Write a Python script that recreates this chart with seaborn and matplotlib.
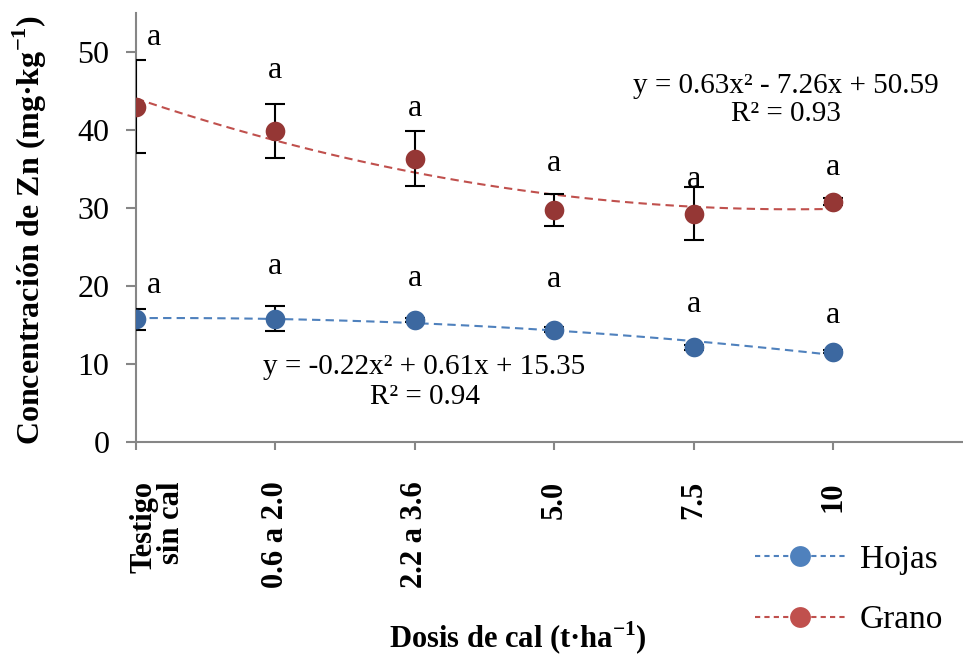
import numpy as np
import pandas as pd
import matplotlib
matplotlib.use("Agg")
import matplotlib.pyplot as plt
import matplotlib.transforms as mtransforms
from matplotlib.lines import Line2D
import seaborn as sns

# datos
dosis = ["Testigo\nsin cal", "0.6 a 2.0", "2.2 a 3.6", "5.0", "7.5", "10"]
pos = [1, 2, 3, 4, 5, 6]
hojas = [15.75, 15.85, 15.65, 14.45, 12.15, 11.6]
hojas_err = [1.3, 1.6, 0.3, 0.3, 0.3, 0.2]
grano = [43.0, 39.85, 36.35, 29.75, 29.3, 30.85]
grano_err = [6.0, 3.45, 3.5, 2.0, 3.4, 0.4]
letras_hojas = ["a", "a", "a", "a", "a", "a"]
letras_grano = ["a", "a", "a", "a", "a", "a"]
eq_hojas = "y = -0.22x² + 0.61x + 15.35\nR² = 0.94"
eq_grano = "y = 0.63x² - 7.26x + 50.59\nR² = 0.93"

# posiciones de las letras (y)
y_let_hojas = [20.1, 22.5, 21.0, 20.9, 17.6, 16.3]
y_let_grano = [51.9, 47.6, 42.8, 35.7, 33.7, 35.2]

df = pd.DataFrame({"x": pos, "Hojas": hojas, "Grano": grano})

sns.set_style("white")
plt.rcParams['font.family'] = ['Liberation Serif', 'DejaVu Serif']
plt.rcParams['mathtext.fontset'] = 'custom'
plt.rcParams['mathtext.rm'] = 'Liberation Serif'
plt.rcParams['mathtext.bf'] = 'Liberation Serif:bold'
plt.rcParams['text.color'] = 'black'
plt.rcParams['xtick.labelcolor'] = 'black'
plt.rcParams['ytick.labelcolor'] = 'black'

azul_l, azul_m = "#4F81BD", "#3C68A0"
rojo_l, rojo_m = "#C0504D", "#953735"
gris = "#868686"

fig = plt.figure(figsize=(9.63, 6.57), dpi=100)
ax = fig.add_axes([136/963, 1 - 442.3/657, 1 - 136/963, (442.3 - 13)/657])

# lineas de tendencia (polinomio grado 2)
sns.regplot(data=df, x="x", y="Hojas", order=2, ci=None, scatter=False, ax=ax,
            line_kws=dict(color=azul_l, lw=1.5, dashes=(4, 2.5)))
sns.regplot(data=df, x="x", y="Grano", order=2, ci=None, scatter=False, ax=ax,
            line_kws=dict(color=rojo_l, lw=1.5, dashes=(4, 2.5)))

ax.errorbar(pos, hojas, yerr=hojas_err, fmt="none", ecolor="black", elinewidth=1.5,
            capsize=7, capthick=1.5, zorder=3)
ax.errorbar(pos, grano, yerr=grano_err, fmt="none", ecolor="black", elinewidth=1.5,
            capsize=7, capthick=1.5, zorder=3)

sns.scatterplot(data=df, x="x", y="Hojas", color=azul_m, s=200, linewidth=0, ax=ax, zorder=4)
sns.scatterplot(data=df, x="x", y="Grano", color=rojo_m, s=200, linewidth=0, ax=ax, zorder=4)

for i in range(len(pos)):
    dx = 0.13 if i == 0 else 0
    ax.text(pos[i] + dx, y_let_hojas[i], letras_hojas[i], ha="center", va="center", fontsize=23)
    ax.text(pos[i] + dx, y_let_grano[i], letras_grano[i], ha="center", va="center", fontsize=23)

ax.text(3.07, 7.7, eq_hojas, ha="center", va="center", fontsize=21, linespacing=1.2)
ax.text(5.66, 43.8, eq_grano, ha="center", va="center", fontsize=21, linespacing=1.1)

ax.set_xlim(1, 1 + (963 - 136) / 139.4)
ax.set_ylim(0, 55)
ax.set_yticks([0, 10, 20, 30, 40, 50])
ax.set_xticks(pos)
ax.set_xticklabels(dosis, rotation=90, fontweight="bold", fontsize=22,
                   va="top", ha="center", linespacing=0.95, multialignment="right")
ax.tick_params(axis="y", labelsize=23, direction="out", length=7, width=1.5,
               color=gris, left=True, pad=12)
ax.tick_params(axis="x", direction="out", length=6, width=1.5, color=gris,
               bottom=True, pad=22)
# primera etiqueta algo desplazada a la derecha, como en el original
lab0 = ax.get_xticklabels()[0]
lab0.set_transform(lab0.get_transform() + mtransforms.ScaledTranslation(22/100, 0, fig.dpi_scale_trans))
for s in ["top", "right"]:
    ax.spines[s].set_visible(False)
for s in ["left", "bottom"]:
    ax.spines[s].set_color(gris)
    ax.spines[s].set_linewidth(1.5)

ax.set_xlabel("")
ax.set_ylabel("")
fig.text(30/963, 1 - 230/657, r"Concentración de Zn (mg·kg$^{\mathbf{-1}}$)",
         rotation=90, ha="center", va="center", fontsize=23, fontweight="bold")
fig.text(518/963, 1 - 638/657, r"Dosis de cal (t·ha$^{\mathbf{-1}}$)",
         ha="center", va="center", fontsize=22, fontweight="bold")

handles = [
    Line2D([], [], color=azul_l, lw=1.5, dashes=(2.5, 2), marker="o", markersize=15,
           markerfacecolor=azul_l, markeredgewidth=0),
    Line2D([], [], color=rojo_l, lw=1.5, dashes=(2.5, 2), marker="o", markersize=15,
           markerfacecolor=rojo_l, markeredgewidth=0),
]
fig.legend(handles, ["Hojas", "Grano"], loc="center left",
           bbox_to_anchor=(725/963, 1 - 590/657), frameon=False, fontsize=24,
           handlelength=2.7, handletextpad=0.45, labelspacing=0.9)

fig.savefig("out.png", dpi=100)
